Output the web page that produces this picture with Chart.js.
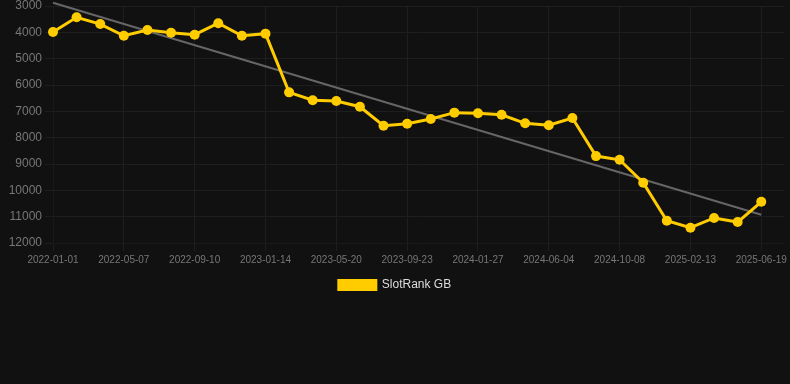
<!DOCTYPE html>
<html>
<head>
<meta charset="utf-8">
<script src="https://cdn.jsdelivr.net/npm/chart.js@4/dist/chart.umd.min.js"></script>
<style>
    html, body { margin: 0; padding: 0; background: #111111; }
    #wrap { width: 790px; height: 301px; }
</style>
</head>
<body>
<div id="wrap"><canvas id="rankChart"></canvas></div>
<script>
// dates of each sample (last empty slot leaves room on the right like the original)
const dates = [
    '2022-01-01', '2022-02-12', '2022-03-26', '2022-05-07', '2022-06-18', '2022-07-30',
    '2022-09-10', '2022-10-22', '2022-12-03', '2023-01-14', '2023-02-25', '2023-04-08',
    '2023-05-20', '2023-07-01', '2023-08-12', '2023-09-23', '2023-11-04', '2023-12-16',
    '2024-01-27', '2024-03-09', '2024-04-20', '2024-06-04', '2024-07-16', '2024-08-27',
    '2024-10-08', '2024-11-19', '2024-12-31', '2025-02-13', '2025-03-27', '2025-05-08',
    '2025-06-19', ''
];
const rankGB = [
    3990, 3430, 3685, 4130, 3910, 4015, 4090, 3655, 4130, 4050,
    6280, 6580, 6610, 6825, 7545, 7470, 7290, 7050, 7075, 7130,
    7455, 7530, 7255, 8700, 8840, 9710, 11155, 11420, 11050, 11205,
    10435
];
const trendStart = 2875;
const trendEnd = 10925;
const yTicks = [3000, 4000, 5000, 6000, 7000, 8000, 9000, 10000, 11000, 12000];

document.addEventListener('DOMContentLoaded', function () {
    const ctx = document.getElementById('rankChart').getContext('2d');
    const lastIdx = rankGB.length - 1;

    new Chart(ctx, {
        type: 'line',
        data: {
            labels: dates,
            datasets: [{
                label: 'SlotRank GB',
                data: rankGB,
                borderColor: '#ffcc00',
                backgroundColor: '#ffcc00',
                borderWidth: 3,
                pointRadius: 5,
                pointBorderWidth: 0,
                tension: 0,
                order: 1
            }, {
                label: 'trend',
                data: [{ x: dates[0], y: trendStart }, { x: dates[lastIdx], y: trendEnd }],
                borderColor: '#666666',
                borderWidth: 2,
                pointRadius: 0,
                clip: false,
                order: 2
            }]
        },
        options: {
            responsive: true,
            maintainAspectRatio: false,
            animation: false,
            plugins: {
                legend: {
                    position: 'bottom',
                    labels: {
                        color: '#dddddd',
                        font: { size: 12 },
                        boxWidth: 37,
                        boxHeight: 9,
                        filter: function (item) { return item.text !== 'trend'; }
                    }
                },
                tooltip: { enabled: false }
            },
            scales: {
                x: {
                    grid: { color: '#1e1e1e' },
                    ticks: {
                        color: '#777777',
                        font: { size: 10 },
                        maxRotation: 0,
                        autoSkip: true,
                        maxTicksLimit: 11
                    }
                },
                y: {
                    reverse: true,
                    min: yTicks[0],
                    max: yTicks[yTicks.length - 1],
                    grid: { color: '#1e1e1e' },
                    afterBuildTicks: function (axis) {
                        axis.ticks = yTicks.map(v => ({ value: v }));
                    },
                    afterFit: function (axis) {
                        axis.width = 53;
                        axis.paddingTop = 6;
                    },
                    ticks: {
                        color: '#777777',
                        font: { size: 12 },
                        callback: function (value) { return String(value); }
                    }
                }
            }
        }
    });
});
</script>
</body>
</html>
